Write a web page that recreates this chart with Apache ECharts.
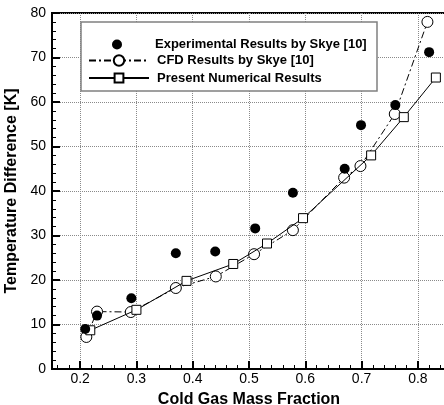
<!DOCTYPE html>
<html>
<head>
<meta charset="utf-8">
<script src="https://cdn.jsdelivr.net/npm/echarts@6/dist/echarts.min.js"></script>
<style>
  html, body { margin: 0; padding: 0; background: #fff; }
  #chart { width: 444px; height: 405px; }
</style>
</head>
<body>
<div id="chart"></div>
<script>
// Experimental measurements (Skye [10])
const expX = [0.209, 0.230, 0.291, 0.370, 0.440, 0.511, 0.578, 0.670, 0.699, 0.760, 0.820];
const expY = [9.0, 12.0, 15.9, 26.0, 26.4, 31.6, 39.6, 45.0, 54.8, 59.3, 71.2];

// CFD results (Skye [10])
const cfdX = [0.211, 0.230, 0.290, 0.370, 0.441, 0.509, 0.578, 0.669, 0.698, 0.759, 0.817];
const cfdY = [7.2, 12.9, 12.8, 18.2, 20.8, 25.8, 31.2, 43.0, 45.6, 57.3, 78.0];

// Present numerical results
const numX = [0.218, 0.300, 0.389, 0.472, 0.532, 0.596, 0.717, 0.775, 0.832];
const numY = [8.7, 13.3, 19.8, 23.6, 28.2, 33.9, 48.0, 56.6, 65.5];

const seriesNames = [
  'Experimental Results by Skye [10]',
  'CFD Results by Skye [10]',
  'Present Numerical Results'
];

const FONT = '"Liberation Sans", Arial, Helvetica, sans-serif';

function pairs(xs, ys) {
  return xs.map((x, i) => [x, ys[i]]);
}

const chart = echarts.init(document.getElementById('chart'), null, { renderer: 'canvas' });

// One legend component per row so each row can have its own icon size
function legendRow(name, left, top, itemHeight, icon) {
  return {
    data: [icon ? { name: name, icon: icon } : name],
    left: left,
    top: top,
    orient: 'vertical',
    padding: 0,
    itemWidth: 60,
    itemHeight: itemHeight,
    selectedMode: false,
    z: 10,
    textStyle: {
      fontFamily: FONT,
      fontWeight: 'bold',
      fontSize: 13,
      color: '#000',
      padding: [0, 0, 0, 3]
    }
  };
}

chart.setOption({
  animation: false,
  backgroundColor: '#fff',
  grid: {
    left: 52,
    top: 13,
    right: -2,
    bottom: 36,
    outerBoundsMode: 'none',
    containLabel: false,
    show: true,
    borderColor: '#000',
    borderWidth: 2,
    backgroundColor: 'transparent'
  },
  graphic: [{
    type: 'rect',
    z: 5,
    shape: { x: 81, y: 22, width: 296, height: 69 },
    style: { fill: '#fff', stroke: '#808080', lineWidth: 1.5 }
  }],
  legend: [
    legendRow(seriesNames[0], 112, 38, 10, 'circle'),
    legendRow(seriesNames[1], 88, 54, 13),
    legendRow(seriesNames[2], 88, 71.5, 11)
  ],
  xAxis: {
    type: 'value',
    min: 0.15,
    max: 0.85,
    splitNumber: 7,
    name: 'Cold Gas Mass Fraction',
    nameLocation: 'middle',
    nameGap: 23,
    nameTextStyle: { fontFamily: FONT, fontWeight: 'bold', fontSize: 16, color: '#000' },
    axisLine: { show: true, lineStyle: { color: '#000', width: 2 } },
    axisTick: { show: true, inside: true, length: 8, lineStyle: { color: '#000', width: 2 } },
    minorTick: { show: true, splitNumber: 5, length: 4, lineStyle: { color: '#000', width: 1 } },
    axisLabel: {
      fontFamily: FONT, fontSize: 14, color: '#000', margin: 3,
      showMinLabel: false, showMaxLabel: false,
      formatter: v => v.toFixed(1)
    },
    splitLine: { show: true, lineStyle: { color: '#8a8a8a', type: 'dotted', width: 1 } }
  },
  yAxis: {
    type: 'value',
    min: 0,
    max: 80,
    interval: 10,
    name: 'Temperature Difference [K]',
    nameLocation: 'middle',
    nameGap: 26,
    nameTextStyle: { fontFamily: FONT, fontWeight: 'bold', fontSize: 16, color: '#000' },
    axisLine: { show: true, lineStyle: { color: '#000', width: 2 } },
    axisTick: { show: true, inside: true, length: 8, lineStyle: { color: '#000', width: 2 } },
    minorTick: { show: true, splitNumber: 5, length: 4, lineStyle: { color: '#000', width: 1 } },
    axisLabel: { fontFamily: FONT, fontSize: 14, color: '#000', margin: 6 },
    splitLine: { show: true, lineStyle: { color: '#8a8a8a', type: 'dotted', width: 1 } }
  },
  series: [
    {
      name: seriesNames[1],
      type: 'line',
      z: 3,
      data: pairs(cfdX, cfdY),
      symbol: 'circle',
      symbolSize: 11,
      showAllSymbol: true,
      lineStyle: { color: '#000', width: 1, type: [7, 3, 2, 3] },
      itemStyle: { color: '#fff', borderColor: '#000', borderWidth: 1 }
    },
    {
      name: seriesNames[2],
      type: 'line',
      z: 4,
      data: pairs(numX, numY),
      symbol: 'rect',
      symbolSize: 9,
      showAllSymbol: true,
      lineStyle: { color: '#000', width: 1, type: 'solid' },
      itemStyle: { color: '#fff', borderColor: '#000', borderWidth: 1 }
    },
    {
      name: seriesNames[0],
      type: 'scatter',
      z: 6,
      data: pairs(expX, expY),
      symbol: 'circle',
      symbolSize: 10,
      itemStyle: { color: '#000', opacity: 1 }
    }
  ]
});
</script>
</body>
</html>
